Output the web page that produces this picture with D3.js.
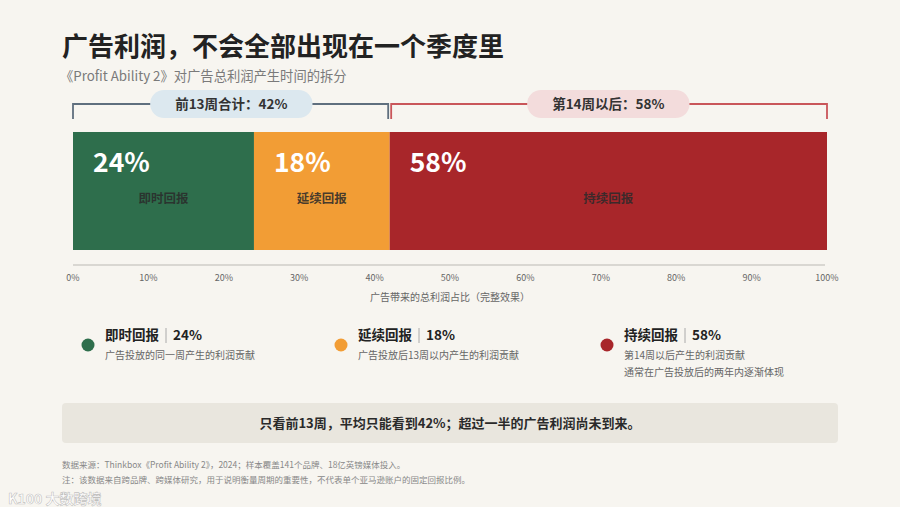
<!DOCTYPE html>
<html>
<head>
<meta charset="utf-8">
<script src="https://cdn.jsdelivr.net/npm/d3@7"></script>
<style>
  body { margin: 0; background: #f7f5f0; }
  svg { display: block; font-family: "Noto Sans CJK SC", "Noto Sans", sans-serif; }
</style>
</head>
<body>
<div id="chart"></div>
<script>
// -------------------------------- Datos ----------------------
const categories = ["即时回报", "延续回报", "持续回报"];
const values = [24, 18, 58];
const colors = ["#2e6e4c", "#f29d35", "#a8262a"];
const descriptions = [
  ["广告投放的同一周产生的利润贡献"],
  ["广告投放后13周以内产生的利润贡献"],
  ["第14周以后产生的利润贡献", "通常在广告投放后的两年内逐渐体现"]
];
const groups = [
  {label: "前13周合计：42%", from: 0, to: 42, line: "#5f6f7e", pill: "#dce8ef"},
  {label: "第14周以后：58%", from: 42, to: 100, line: "#c9565a", pill: "#f3dcdc"}
];
const tickValues = [0, 10, 20, 30, 40, 50, 60, 70, 80, 90, 100];
const legendX = [88, 341, 607];

// -------------------------------- Grafico ------------------------
const WIDTH = 900, HEIGHT = 507;
const svg = d3.select("#chart").append("svg")
  .attr("width", WIDTH).attr("height", HEIGHT);

svg.append("rect").attr("width", WIDTH).attr("height", HEIGHT).attr("fill", "#f7f5f0");

// Titulos
svg.append("text").attr("x", 62).attr("y", 56)
  .attr("font-size", 26).attr("font-weight", 700).attr("fill", "#222")
  .text("广告利润，不会全部出现在一个季度里");
svg.append("text").attr("x", 60).attr("y", 81)
  .attr("font-size", 13.3).attr("fill", "#7a7a7a")
  .text("《Profit Ability 2》对广告总利润产生时间的拆分");

const x = d3.scaleLinear().domain([0, 100]).range([73, 827]);
const barTop = 132, barH = 118;

// segmentos
let acc = 0;
const segs = values.map((v, i) => {
  const s = {name: categories[i], value: v, start: acc, color: colors[i]};
  acc += v;
  return s;
});

const seg = svg.selectAll(".seg").data(segs).enter().append("g").attr("class", "seg");
seg.append("rect")
  .attr("x", d => x(d.start))
  .attr("y", barTop)
  .attr("width", d => x(d.start + d.value) - x(d.start))
  .attr("height", barH)
  .attr("fill", d => d.color);
seg.append("text")
  .attr("x", d => x(d.start) + 20)
  .attr("y", barTop + 40)
  .attr("font-size", 26.5).attr("font-weight", 700).attr("fill", "#fff")
  .text(d => d.value + "%");
seg.append("text")
  .attr("x", d => (x(d.start) + x(d.start + d.value)) / 2)
  .attr("y", barTop + 71)
  .attr("text-anchor", "middle")
  .attr("font-size", 12.5).attr("font-weight", 700).attr("fill", "#2a2a2a")
  .attr("fill-opacity", 0.85)
  .text(d => d.name);

// llaves
const bracketY = 104, bracketDrop = 15;
const br = svg.selectAll(".bracket").data(groups).enter().append("g").attr("class", "bracket");
br.append("path")
  .attr("d", d => {
    const x0 = x(d.from) + (d.from > 0 ? 1.5 : 0), x1 = x(d.to) - (d.to < 100 ? 1.5 : 0);
    return `M${x0},${bracketY + bracketDrop}V${bracketY}H${x1}V${bracketY + bracketDrop}`;
  })
  .attr("fill", "none").attr("stroke", d => d.line).attr("stroke-width", 1.8);

br.each(function(d) {
  const g = d3.select(this);
  const cx = (x(d.from) + x(d.to)) / 2;
  const t = g.append("text")
    .attr("x", cx).attr("y", bracketY + 5)
    .attr("text-anchor", "middle")
    .attr("font-size", 13.5).attr("font-weight", 700).attr("fill", "#333")
    .text(d.label);
  const w = t.node().getComputedTextLength() + 50;
  g.insert("rect", "text")
    .attr("x", cx - w / 2).attr("y", bracketY - 14)
    .attr("width", w).attr("height", 28)
    .attr("rx", 14).attr("fill", d.pill);
});

// eje
const axisG = svg.append("g").attr("transform", `translate(0,265)`);
axisG.append("line")
  .attr("x1", x(0)).attr("x2", x(100) - 2)
  .attr("stroke", "#cfcdc8").attr("stroke-width", 1.5);
axisG.selectAll(".tick").data(tickValues).enter().append("text")
  .attr("x", d => x(d)).attr("y", 16)
  .attr("text-anchor", "middle")
  .attr("font-size", 9).attr("fill", "#666")
  .text(d => d + "%");
svg.append("text")
  .attr("x", 450).attr("y", 301)
  .attr("text-anchor", "middle")
  .attr("font-size", 10).attr("fill", "#666")
  .text("广告带来的总利润占比（完整效果）");

// leyenda
const leg = svg.selectAll(".legend").data(segs).enter().append("g")
  .attr("class", "legend")
  .attr("transform", (d, i) => `translate(${legendX[i]},0)`);
leg.append("circle").attr("cx", 0).attr("cy", 345).attr("r", 6.5).attr("fill", d => d.color);
leg.each(function(d, i) {
  const g = d3.select(this);
  const t = g.append("text").attr("x", 17).attr("y", 340)
    .attr("font-size", 13.5).attr("font-weight", 700).attr("fill", "#222")
    .text(d.name);
  const w = t.node().getComputedTextLength();
  g.append("line")
    .attr("x1", 17 + w + 7).attr("x2", 17 + w + 7)
    .attr("y1", 328).attr("y2", 343)
    .attr("stroke", "#aaa").attr("stroke-width", 1);
  g.append("text").attr("x", 17 + w + 14).attr("y", 340)
    .attr("font-size", 13.5).attr("font-weight", 700).attr("fill", "#222")
    .text(d.value + "%");
  descriptions[i].forEach((line, j) => {
    g.append("text").attr("x", 17).attr("y", 359 + j * 17)
      .attr("font-size", 10).attr("fill", "#666")
      .text(line);
  });
});

// banner
svg.append("rect")
  .attr("x", 62).attr("y", 403).attr("width", 776).attr("height", 40)
  .attr("rx", 4).attr("fill", "#e9e6de");
svg.append("text")
  .attr("x", 450).attr("y", 428)
  .attr("text-anchor", "middle")
  .attr("font-size", 13).attr("font-weight", 700).attr("fill", "#2a2a2a")
  .text("只看前13周，平均只能看到42%；超过一半的广告利润尚未到来。");

// notas
svg.append("text").attr("x", 62).attr("y", 468)
  .attr("font-size", 8.5).attr("fill", "#888")
  .text("数据来源：Thinkbox《Profit Ability 2》，2024；样本覆盖141个品牌、18亿英镑媒体投入。");
svg.append("text").attr("x", 62).attr("y", 483)
  .attr("font-size", 8.5).attr("fill", "#888")
  .text("注：该数据来自跨品牌、跨媒体研究，用于说明衡量周期的重要性，不代表单个亚马逊账户的固定回报比例。");

// marca de agua
svg.append("text").attr("x", 8).attr("y", 504)
  .attr("font-size", 14).attr("font-weight", 700)
  .attr("fill", "#fff").attr("fill-opacity", 0.9)
  .attr("stroke", "#999").attr("stroke-width", 0.6).attr("stroke-opacity", 0.6)
  .text("K100 大数跨境");
</script>
</body>
</html>
